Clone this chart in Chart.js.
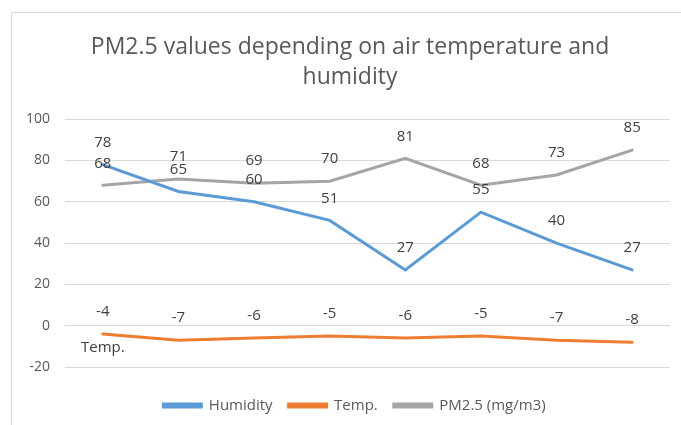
<!DOCTYPE html>
<html>
<head>
<meta charset="utf-8">
<script src="https://cdn.jsdelivr.net/npm/chart.js@4/dist/chart.umd.min.js"></script>
<style>
  html, body { margin: 0; padding: 0; background: #fff; }
  #wrap { position: relative; width: 681px; height: 425px; overflow: hidden; }
  #frame { position: absolute; left: 11px; top: 12px; width: 720px; height: 440px; border: 1px solid #d9d9d9; }
  #chart { position: absolute; left: 0; top: 0; }
</style>
</head>
<body>
<div id="wrap">
  <div id="frame"></div>
  <canvas id="chart" width="681" height="425"></canvas>
</div>
<script>
// data grafik
const categories = ['1', '2', '3', '4', '5', '6', '7', '8'];
const humidity = [78, 65, 60, 51, 27, 55, 40, 27];
const temperature = [-4, -7, -6, -5, -6, -5, -7, -8];
const pm25 = [68, 71, 69, 70, 81, 68, 73, 85];
const seriesNames = ['Humidity', 'Temp.', 'PM2.5 (mg/m3)'];
const titleLines = ['PM2.5 values depending on air temperature and', 'humidity'];

const textFont = "'Open Sans', sans-serif";

// plugin untuk label nilai di atas titik
const valueLabels = {
    id: 'valueLabels',
    afterDatasetsDraw(chart) {
        const ctx = chart.ctx;
        ctx.save();
        ctx.font = '15px ' + textFont;
        ctx.fillStyle = '#404040';
        ctx.textAlign = 'center';
        ctx.textBaseline = 'middle';
        chart.data.datasets.forEach((ds, i) => {
            const meta = chart.getDatasetMeta(i);
            meta.data.forEach((pt, j) => {
                ctx.fillText(String(ds.data[j]), pt.x, pt.y - 22);
            });
        });
        // label nama seri di bawah titik pertama Temp.
        const first = chart.getDatasetMeta(1).data[0];
        ctx.fillText(seriesNames[1], first.x, first.y + 14);
        ctx.restore();
    }
};

// geser judul dan legenda sedikit ke kanan seperti di Excel
const shiftBlocks = {
    id: 'shiftBlocks',
    afterLayout(chart) {
        if (chart.titleBlock) chart.titleBlock.left += 30;
        if (chart.legend) chart.legend.left += 39;
    }
};

const ctx = document.getElementById('chart').getContext('2d');
new Chart(ctx, {
    type: 'line',
    data: {
        labels: categories,
        datasets: [
            { label: seriesNames[0], data: humidity, borderColor: '#5B9BD5', backgroundColor: '#5B9BD5' },
            { label: seriesNames[1], data: temperature, borderColor: '#ED7D31', backgroundColor: '#ED7D31' },
            { label: seriesNames[2], data: pm25, borderColor: '#A5A5A5', backgroundColor: '#A5A5A5' }
        ]
    },
    options: {
        responsive: false,
        animation: false,
        elements: {
            line: { borderWidth: 3, tension: 0, borderCapStyle: 'round' },
            point: { radius: 0, hoverRadius: 0 }
        },
        layout: { padding: { left: 0, right: 11, top: 0, bottom: 2 } },
        scales: {
            x: {
                offset: true,
                ticks: { display: false },
                grid: { display: false },
                border: { display: false },
                afterFit(scale) { scale.height = 15; }
            },
            y: {
                min: -20,
                max: 100,
                ticks: { stepSize: 20, color: '#595959', font: { family: textFont, size: 14 }, padding: 15 },
                grid: { color: '#d9d9d9', drawTicks: false },
                border: { display: false },
                afterFit(scale) { scale.width = 65; }
            }
        },
        plugins: {
            title: {
                display: true,
                text: titleLines,
                color: '#595959',
                font: { family: textFont, size: 23, weight: 'normal', lineHeight: 1.33 },
                padding: { top: 32, bottom: 26 }
            },
            legend: {
                position: 'bottom',
                labels: {
                    boxWidth: 38,
                    boxHeight: 3,
                    padding: 16,
                    color: '#595959',
                    font: { family: textFont, size: 15 }
                }
            },
            tooltip: { enabled: false }
        }
    },
    plugins: [valueLabels, shiftBlocks]
});
</script>
</body>
</html>
